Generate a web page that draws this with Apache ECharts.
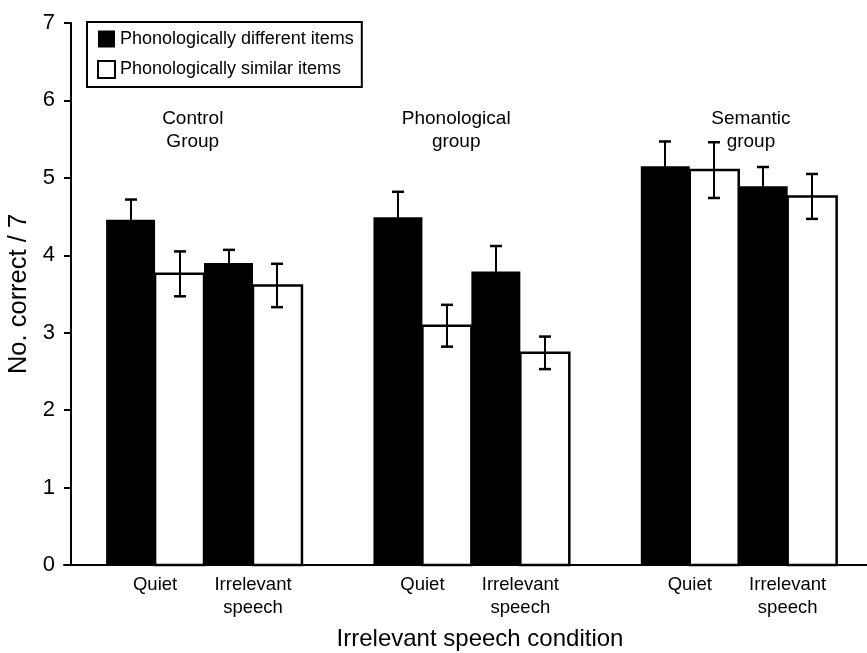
<!DOCTYPE html>
<html>
<head>
<meta charset="utf-8">
<script src="https://cdn.jsdelivr.net/npm/echarts@6/dist/echarts.min.js"></script>
<style>
html,body{margin:0;padding:0;background:#fff;}
#chart{width:867px;height:653px;}
</style>
</head>
<body>
<div id="chart"></div>
<script>
// ---- data ----
const groups = ['Control\nGroup', 'Phonological\ngroup', 'Semantic\ngroup'];
const conditions = ['Quiet', 'Irrelevant\nspeech'];
const seriesNames = ['Phonologically different items', 'Phonologically similar items'];
// order: Control-Quiet, Control-Irrelevant, Phon-Quiet, Phon-Irrelevant, Sem-Quiet, Sem-Irrelevant
const differentMeans = [4.46, 3.90, 4.49, 3.79, 5.15, 4.89];
const differentErr   = [0.26, 0.17, 0.33, 0.33, 0.32, 0.25];
const similarMeans   = [3.76, 3.61, 3.09, 2.74, 5.10, 4.76];
const similarErr     = [0.29, 0.28, 0.27, 0.21, 0.36, 0.29];
const yTicks = [0, 1, 2, 3, 4, 5, 6, 7];

// ---- layout (in bar-width units on a hidden value axis) ----
const FONT = "'Liberation Sans', Arial, Helvetica, sans-serif";
const groupStart = g => 0.86 + g * 5.46;
const groupLabelNudge = [-0.23, -0.31, 0.25];
const condCenter = i => groupStart(Math.floor(i / 2)) + 2 * (i % 2) + 1;
const condCenters = [];
for (let i = 0; i < groups.length * conditions.length; i++) condCenters.push(condCenter(i));

function barData(means, errs, s) {
  return means.map((v, i) => [groupStart(Math.floor(i / 2)) + 2 * (i % 2) + s, v, errs[i]]);
}

function makeRender(fill, stroke) {
  return function (params, api) {
    const x = api.value(0), v = api.value(1), e = api.value(2);
    const p0 = api.coord([x, v]);
    const p1 = api.coord([x + 1, 0]);
    const t = api.coord([x + 0.5, v + e]);
    const b = api.coord([x + 0.5, v - e]);
    const cx = Math.round(t[0]);
    const hw = 6;
    const es = { stroke: '#000', lineWidth: 2 };
    const cs = { stroke: '#000', lineWidth: 2.5 };
    return {
      type: 'group',
      children: [
        { type: 'rect', shape: { x: p0[0], y: p0[1], width: p1[0] - p0[0], height: p1[1] - p0[1] },
          style: { fill: fill, stroke: stroke, lineWidth: stroke ? 2.5 : 0 } },
        { type: 'line', shape: { x1: cx, y1: t[1], x2: cx, y2: b[1] }, style: es },
        { type: 'line', shape: { x1: cx - hw, y1: t[1], x2: cx + hw, y2: t[1] }, style: cs },
        { type: 'line', shape: { x1: cx - hw, y1: b[1], x2: cx + hw, y2: b[1] }, style: cs }
      ]
    };
  };
}

const chart = echarts.init(document.getElementById('chart'), null, { renderer: 'canvas' });
const option = {
  animation: false,
  backgroundColor: '#fff',
  textStyle: { fontFamily: FONT, color: '#000' },
  grid: { left: 64, right: 0, top: 23, bottom: 88, containLabel: false, outerBoundsMode: 'none' },
  legend: {
    orient: 'vertical',
    left: 87, top: 22,
    padding: [8, 8, 8, 10],
    itemWidth: 17, itemHeight: 17, itemGap: 12,
    borderColor: '#000', borderWidth: 2,
    backgroundColor: '#fff',
    textStyle: { fontFamily: FONT, fontSize: 18, color: '#000' },
    data: [
      { name: seriesNames[0], icon: 'rect', itemStyle: { color: '#000', borderWidth: 0 } },
      { name: seriesNames[1], icon: 'rect', itemStyle: { color: '#fff', borderColor: '#000', borderWidth: 2 } }
    ]
  },
  xAxis: {
    type: 'value', min: 0, max: 16.4,
    axisLine: { show: true, lineStyle: { color: '#000', width: 2 } },
    axisTick: { show: false },
    splitLine: { show: false },
    axisLabel: {
      customValues: condCenters,
      formatter: function (val) {
        let best = 0, d = Infinity;
        condCenters.forEach((c, i) => { if (Math.abs(c - val) < d) { d = Math.abs(c - val); best = i; } });
        return conditions[best % 2];
      },
      fontFamily: FONT, fontSize: 18.5, color: '#000', margin: 8, lineHeight: 23
    },
    name: 'Irrelevant speech condition',
    nameLocation: 'middle', nameGap: 62,
    nameTextStyle: { fontFamily: FONT, fontSize: 24, color: '#000', padding: [0, 0, 0, 29] }
  },
  yAxis: {
    type: 'value', min: 0, max: 7, interval: 1,
    offset: -7,
    axisLine: { show: true, lineStyle: { color: '#000', width: 2 } },
    axisTick: { show: true, length: 7, inside: false, lineStyle: { color: '#000', width: 2 } },
    splitLine: { show: false },
    axisLabel: {
      fontFamily: FONT, fontSize: 22, color: '#000', margin: 16,
      formatter: v => (yTicks.indexOf(v) >= 0 ? String(v) : '')
    },
    name: 'No. correct / 7',
    nameLocation: 'middle', nameRotate: 90, nameGap: 36,
    nameTextStyle: { fontFamily: FONT, fontSize: 25.5, color: '#000' }
  },
  series: [
    {
      name: seriesNames[0], type: 'custom',
      itemStyle: { color: '#000' },
      encode: { x: 0, y: 1 },
      data: barData(differentMeans, differentErr, 0),
      renderItem: makeRender('#000', null),
      z: 2
    },
    {
      name: seriesNames[1], type: 'custom',
      itemStyle: { color: '#fff', borderColor: '#000', borderWidth: 2 },
      encode: { x: 0, y: 1 },
      data: barData(similarMeans, similarErr, 1),
      renderItem: makeRender('#fff', '#000'),
      z: 3
    },
    {
      name: 'groupLabels', type: 'custom', silent: true,
      encode: { x: 0, y: 1 },
      data: groups.map((g, i) => [groupStart(i) + 2 + groupLabelNudge[i], 5.62, i]),
      renderItem: function (params, api) {
        const p = api.coord([api.value(0), api.value(1)]);
        return {
          type: 'text', x: p[0], y: p[1],
          style: {
            text: groups[api.value(2)], fill: '#000',
            fontFamily: FONT, fontSize: 19, lineHeight: 23,
            align: 'center', verticalAlign: 'middle'
          }
        };
      },
      z: 4
    }
  ]
};
chart.setOption(option);
</script>
</body>
</html>
